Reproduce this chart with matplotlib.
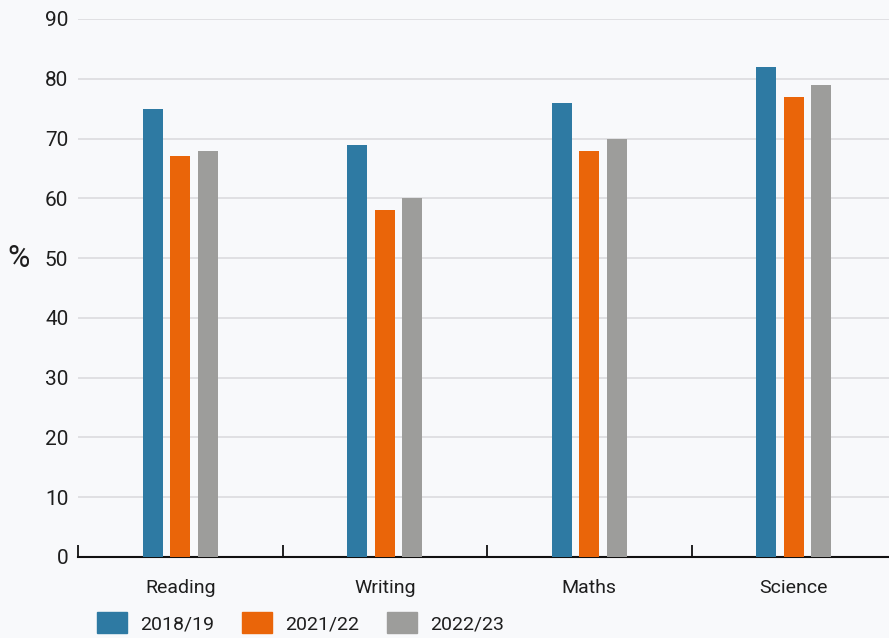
import matplotlib.pyplot as plt
from matplotlib.patches import Patch
import numpy as np

subjects = ["Reading", "Writing", "Maths", "Science"]
years = ["2018/19", "2021/22", "2022/23"]
values_2018 = [75, 69, 76, 82]
values_2021 = [67, 58, 68, 77]
values_2022 = [68, 60, 70, 79]
colors = ["#2E7AA3", "#EA6509", "#9D9D9B"]

plt.rcParams["font.family"] = ["Roboto", "DejaVu Sans"]
bg = "#F8F9FB"

fig = plt.figure(figsize=(8.89, 6.38), dpi=100, facecolor=bg)
ax = fig.add_axes([78 / 889, 1 - 557 / 638, 818 / 889, 538 / 638], facecolor=bg)

x = np.arange(len(subjects))
offsets = [-0.134, 0, 0.134]
for vals, off, col in zip([values_2018, values_2021, values_2022], offsets, colors):
    ax.bar(x + off, vals, width=0.098, color=col, zorder=3)

ax.set_xlim(-0.5, 3.5)
ax.set_ylim(0, 90)
ax.set_yticks(range(0, 91, 10))
ax.grid(axis="y", color="#DCDCDF", linewidth=1.2, zorder=0)
for s in ["left", "right", "top"]:
    ax.spines[s].set_visible(False)
ax.spines["bottom"].set_linewidth(1.5)
ax.spines["bottom"].set_color("#111111")

ax.set_xticks(x)
ax.set_xticklabels(subjects, fontsize=14, color="#1E1E1E")
ax.tick_params(axis="x", which="major", length=0, pad=16)
ax.set_xticks(np.arange(-0.5, 4, 1), minor=True)
ax.tick_params(axis="x", which="minor", direction="in", length=9, width=1.3, color="#111111")
ax.tick_params(axis="y", length=0, pad=7, labelsize=15, labelcolor="#1E1E1E")

ax.set_ylabel("%", rotation=0, fontsize=22, color="#1E1E1E", va="center", ha="center")
ax.yaxis.set_label_coords(-59 / 818, 50 / 90)

handles = [Patch(color=c, label=y) for c, y in zip(colors, years)]
fig.legend(handles=handles, loc="upper left", bbox_to_anchor=(97 / 889, 1 - 612 / 638),
           ncol=3, frameon=False, fontsize=14, handlelength=1.55, handleheight=1.3,
           handletextpad=0.65, columnspacing=1.45, borderpad=0, borderaxespad=0,
           labelcolor="#1E1E1E")

fig.savefig("out.png", dpi=100, facecolor=bg)
